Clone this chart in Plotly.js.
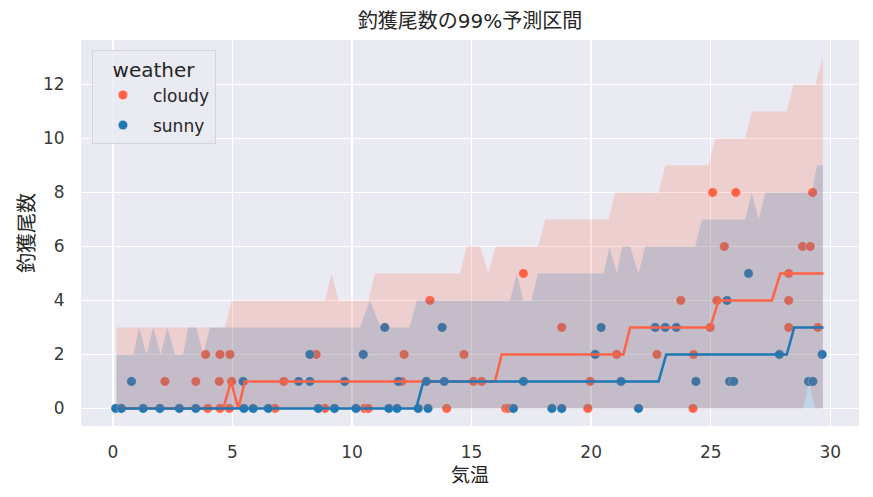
<!DOCTYPE html>
<html>
<head>
<meta charset="utf-8">
<script src="https://cdn.plot.ly/plotly-3.0.1.min.js"></script>
<style>
html,body{margin:0;padding:0;background:#fff;}
#chart{width:873px;height:497px;}
</style>
</head>
<body>
<div id="chart"></div>
<script>
// ---- observed data (気温, 釣獲尾数) ----
var cloudyTemp = [2.18,3.47,3.88,3.97,4.48,4.45,4.48,4.87,4.90,4.97,6.78,7.15,8.50,8.87,10.52,10.68,12.08,12.18,13.26,13.96,14.68,15.08,15.42,16.43,16.54,17.17,18.77,19.86,19.96,21.07,22.75,23.75,24.26,24.28,24.98,25.08,25.26,25.57,26.05,28.26,28.26,28.26,28.84,29.16,29.26,29.48];
var cloudyCount = [1,1,2,0,0,1,2,0,2,1,0,1,2,0,0,0,1,2,4,0,2,1,1,0,0,5,3,0,1,2,2,4,0,2,3,8,4,6,8,3,4,5,6,6,8,3];

var sunnyTemp = [0.12,0.36,1.27,1.97,2.78,3.47,5.48,5.87,6.50,8.59,9.27,10.17,11.54,11.88,12.77,13.18,16.75,18.36,18.77,21.98,
                 0.78,5.45,7.77,8.24,9.69,11.94,13.11,13.86,17.17,21.25,24.38,25.79,25.96,29.09,29.27,
                 8.24,10.47,20.17,27.87,29.66,
                 11.37,13.77,20.42,22.68,23.10,23.56,
                 25.68,26.58];
var sunnyCount = [0,0,0,0,0,0,0,0,0,0,0,0,0,0,0,0,0,0,0,0,
                  1,1,1,1,1,1,1,1,1,1,1,1,1,1,1,
                  2,2,2,2,2,
                  3,3,3,3,3,3,
                  4,5];

// ---- 99% prediction interval (upper / lower) and median ----
var cloudyUpperT = [0.15,4.69,4.97,8.87,9.15,9.43,10.68,10.96,14.52,14.80,15.36,15.70,16.00,17.79,18.08,20.73,21.00,22.82,23.10,24.90,25.19,26.44,26.72,28.18,28.46,29.37,29.69];
var cloudyUpperV = [3,3,4,4,5,4,4,5,5,6,6,5,6,6,7,7,8,8,9,9,10,10,11,11,12,12,13];
var cloudyLowerT = [0.15,28.87,29.10,29.37,29.69];
var cloudyLowerV = [0,0,1,0,0];
var cloudyMedT = [0.15,4.62,4.94,5.25,5.52,15.98,16.26,21.35,21.63,24.98,25.33,27.56,27.91,29.72];
var cloudyMedV = [0,0,1,0,1,1,2,2,3,3,4,4,5,5];

var sunnyUpperT = [0.15,0.85,1.10,1.41,1.69,2.00,2.28,2.60,2.94,3.15,3.50,3.78,4.06,10.33,10.75,11.20,12.40,12.71,16.61,16.89,17.17,17.50,17.77,20.52,20.77,21.07,21.30,21.63,21.98,22.26,24.35,24.63,26.44,26.72,27.00,27.28,29.23,29.44,29.69];
var sunnyUpperV = [2,2,3,2,3,2,3,2,2,3,3,2,3,3,4,3,3,4,4,5,4,4,5,5,6,5,6,6,5,6,6,7,7,8,7,8,8,9,9];
var sunnyLowerT = [0.15,29.69];
var sunnyLowerV = [0,0];
var sunnyMedT = [0.15,12.68,12.99,22.82,23.14,28.18,28.49,29.72];
var sunnyMedV = [0,0,1,1,2,2,3,3];

var xTicks = [0,5,10,15,20,25,30];
var yTicks = [0,2,4,6,8,10,12];

var cloudyColor = '#FF6347';
var sunnyColor = '#1f77b4';
var FONT = '"DejaVu Sans", "Noto Sans CJK JP", sans-serif';

var traces = [
  {x: cloudyTemp, y: cloudyCount, type:'scatter', mode:'markers', name:'cloudy', legendgroup:'c',
   marker:{color:cloudyColor, size:9.5, line:{color:'rgba(255,255,255,0.6)', width:0.6}}},
  {x: sunnyTemp, y: sunnyCount, type:'scatter', mode:'markers', name:'sunny', legendgroup:'s',
   marker:{color:sunnyColor, size:9.5, line:{color:'rgba(255,255,255,0.6)', width:0.6}}},
  {x: cloudyLowerT, y: cloudyLowerV, type:'scatter', mode:'lines', line:{width:0, color:'rgba(0,0,0,0)'}, showlegend:false, hoverinfo:'skip'},
  {x: cloudyUpperT, y: cloudyUpperV, type:'scatter', mode:'lines', fill:'tonexty', fillcolor:'rgba(255,99,71,0.2)', line:{width:0, color:'rgba(0,0,0,0)'}, showlegend:false, hoverinfo:'skip'},
  {x: sunnyLowerT, y: sunnyLowerV, type:'scatter', mode:'lines', line:{width:0, color:'rgba(0,0,0,0)'}, showlegend:false, hoverinfo:'skip'},
  {x: sunnyUpperT, y: sunnyUpperV, type:'scatter', mode:'lines', fill:'tonexty', fillcolor:'rgba(31,119,180,0.2)', line:{width:0, color:'rgba(0,0,0,0)'}, showlegend:false, hoverinfo:'skip'},
  {x: cloudyMedT, y: cloudyMedV, type:'scatter', mode:'lines', line:{width:2.5, color:cloudyColor}, showlegend:false},
  {x: sunnyMedT, y: sunnyMedV, type:'scatter', mode:'lines', line:{width:2.5, color:sunnyColor}, showlegend:false}
];

var layout = {
  width: 873, height: 497,
  margin: {l:81, r:14, t:40, b:71, pad:0},
  paper_bgcolor: '#ffffff',
  plot_bgcolor: '#EAEAF2',
  font: {family: FONT, color:'#262626', size:17},
  title: {text:'釣獲尾数の99%予測区間', font:{family:FONT, size:20, color:'#262626'},
          x:0.5, xref:'paper', xanchor:'center', y:0.958, yref:'container', yanchor:'middle'},
  xaxis: {range:[-1.33, 31.2], tickvals:xTicks, ticktext:xTicks.map(String),
          showgrid:true, gridcolor:'#ffffff', gridwidth:1.4, zeroline:false, showline:false,
          ticks:'outside', ticklen:11, tickcolor:'rgba(0,0,0,0)',
          tickfont:{family:FONT, size:17, color:'#3a3a3a'},
          title:{text:'気温', font:{family:FONT, size:19, color:'#262626'}, standoff:7}},
  yaxis: {range:[-0.65, 13.65], tickvals:yTicks, ticktext:yTicks.map(String),
          showgrid:true, gridcolor:'#ffffff', gridwidth:1.4, zeroline:false, showline:false,
          ticks:'outside', ticklen:12, tickcolor:'rgba(0,0,0,0)',
          tickfont:{family:FONT, size:17, color:'#3a3a3a'},
          title:{text:'釣獲尾数', font:{family:FONT, size:20, color:'#262626'}, standoff:2}},
  legend: {x:0.0141, y:0.973, xanchor:'left', yanchor:'top',
           bgcolor:'rgba(234,234,242,0.85)', bordercolor:'#d4d4dc', borderwidth:1,
           font:{family:FONT, size:17, color:'#262626'},
           title:{text:'weather', side:'top center', font:{family:FONT, size:20, color:'#262626'}},
           traceorder:'grouped', tracegroupgap:5, itemwidth:50},
  showlegend: true
};

Plotly.newPlot('chart', traces, layout, {displayModeBar:false, staticPlot:true});
</script>
</body>
</html>
